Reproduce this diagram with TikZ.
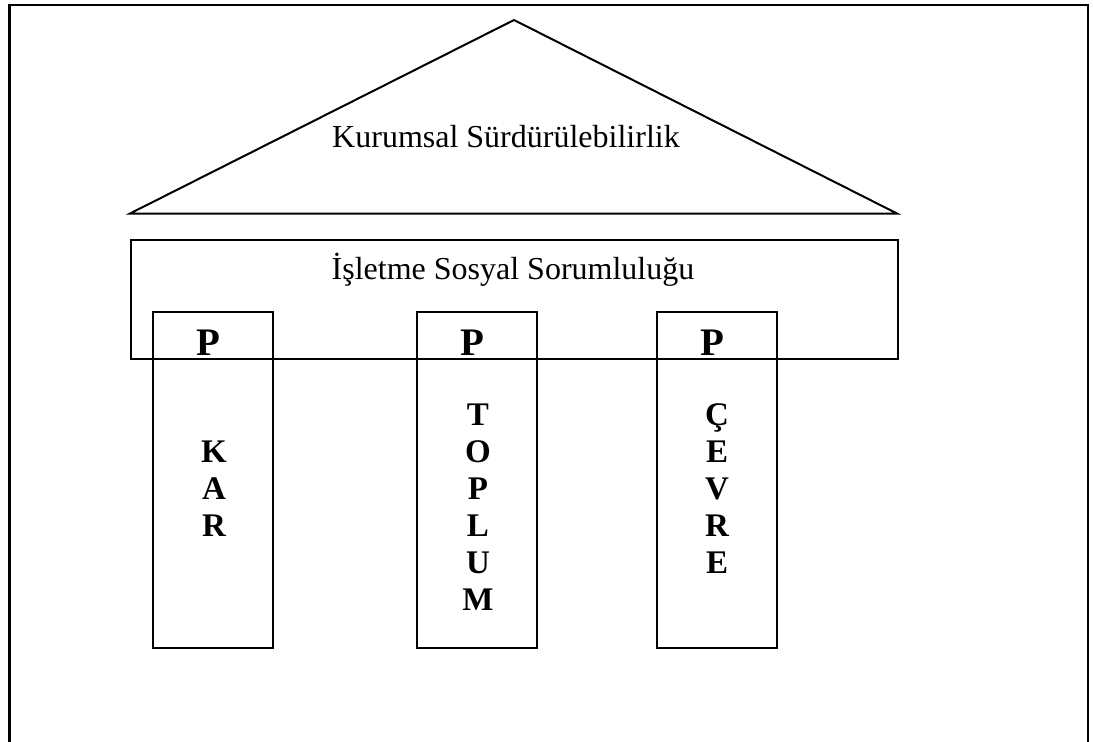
\documentclass[tikz,border=0pt]{standalone}
\usepackage{fontspec}
\setmainfont{Liberation Serif}
\begin{document}
\begin{tikzpicture}[x=1pt,y=-1pt,
  frame/.style={line width=2.6pt},
  part/.style={draw, line width=2pt, inner sep=0pt},
  pillar/.style={part, minimum width=120pt, minimum height=336pt, anchor=north},
  label/.style={font=\fontsize{32}{38}\selectfont, anchor=base, inner sep=0pt},
  pletter/.style={font=\bfseries\fontsize{39}{46}\selectfont, anchor=base, inner sep=0pt},
  colletter/.style={font=\bfseries\fontsize{33}{37}\selectfont, anchor=base, inner sep=0pt}
]
\useasboundingbox (0,0) rectangle (1093,742);
% open frame around the figure
\draw[frame] (9.5,742) -- (9.5,5) -- (1088,5) -- (1088,742);
% roof
\coordinate (apex) at (514,20);
\coordinate (baseL) at (130,213.5);
\coordinate (baseR) at (897,213.5);
\draw[line width=2pt] (baseL) -- (apex) -- (baseR) -- cycle;
\node[label] (roof) at (506,147) {Kurumsal Sürdürülebilirlik};
% beam
\node[part, minimum width=767pt, minimum height=119pt, anchor=north west] (beam) at (130,239) {};
\node[label] (beamtext) at (513,279) {İşletme Sosyal Sorumluluğu};
% pillars
\node[pillar] (p1) at (213,311) {};
\node[pillar] (p2) at (477,311) {};
\node[pillar] (p3) at (717,311) {};
\node[pletter] (p1top) at (208,355.5) {P};
\node[pletter] (p2top) at (472,355.5) {P};
\node[pletter] (p3top) at (712,355.5) {P};
% vertical words, one letter per line
\foreach \l [count=\i] in {K,A,R}
  \node[colletter] (kar-\i) at (214,{462+37*(\i-1)}) {\l};
\foreach \l [count=\i] in {T,O,P,L,U,M}
  \node[colletter] (toplum-\i) at (478,{425+37*(\i-1)}) {\l};
\foreach \l [count=\i] in {Ç,E,V,R,E}
  \node[colletter] (cevre-\i) at (717,{425+37*(\i-1)}) {\l};
\end{tikzpicture}
\end{document}
